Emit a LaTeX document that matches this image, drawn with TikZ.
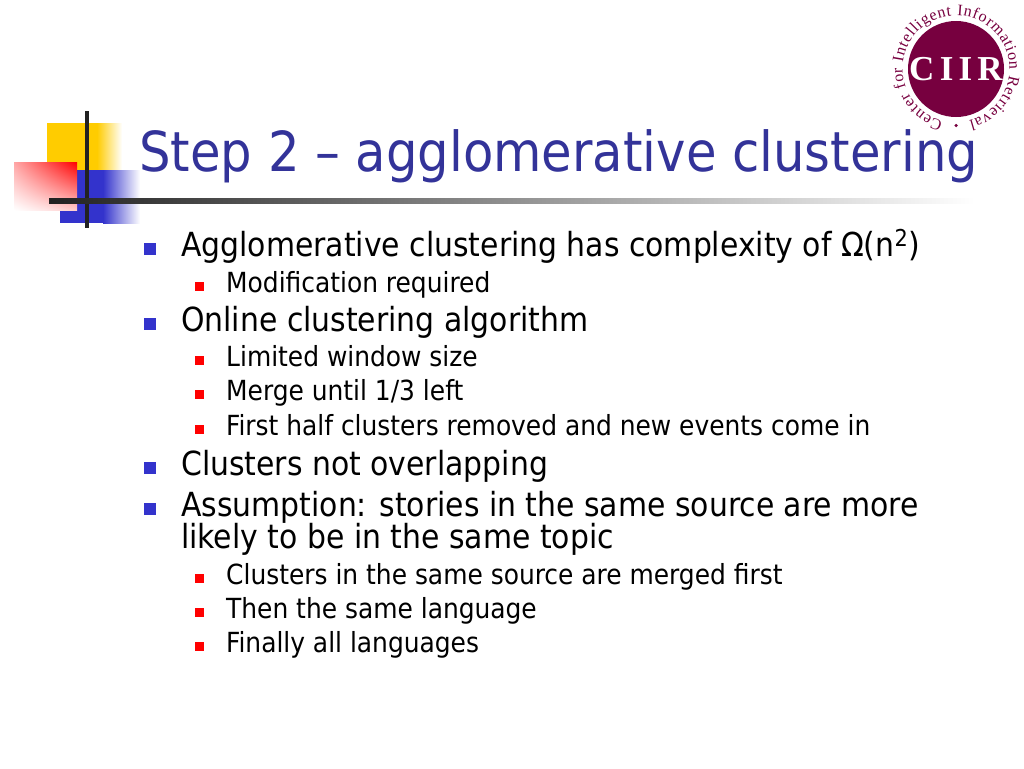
\documentclass[tikz,border=0pt]{standalone}
\usepackage{fontspec}
\setmainfont{DejaVu Sans Condensed}
\newfontfamily\logofont{Liberation Serif}
\usetikzlibrary{decorations.text,shadings}
\definecolor{titleblue}{HTML}{333399}
\definecolor{bulletblue}{HTML}{3333CC}
\definecolor{logored}{HTML}{77003F}
\definecolor{barblack}{HTML}{222222}
\definecolor{deckyellow}{HTML}{FFCC00}
\tikzset{
  title/.style={anchor=base west,inner sep=0pt,text=titleblue,font=\fontsize{55.2}{55.2}\selectfont},
  itemone/.style={anchor=base west,inner sep=0pt,font=\fontsize{33.2}{33.2}\selectfont},
  itemtwo/.style={anchor=base west,inner sep=0pt,font=\fontsize{27.7}{27.7}\selectfont},
  bulletone/.style={inner sep=0pt,minimum size=12pt,fill=bulletblue},
  bullettwo/.style={inner sep=0pt,minimum size=8.5pt,fill=red},
}
\begin{document}
\begin{tikzpicture}[x=1pt,y=-1pt]
\useasboundingbox (0,0) rectangle (1024,768);
\fill[deckyellow] (47,123) rectangle (97,170);
\shade[left color=deckyellow,right color=white] (97,123) rectangle (122,170);
\fill[bulletblue] (60,170) rectangle (103,223);
\shade[left color=bulletblue,right color=white] (103,170) rectangle (140,223);
\shade[shading=bilinear interpolation,upper right=red,lower left=white,upper left=red!35!white,lower right=red!20!white] (14,162) rectangle (77,210);
\fill[barblack] (85.2,111) rectangle (88.8,228);
\shade[left color=barblack,right color=white] (49,198.5) rectangle (975,203.5);
\node (heading) [title] at (139,171) {Step 2 – agglomerative clustering};
\foreach \name/\base/\txt in {
  complexity/256/{Agglomerative clustering has complexity of Ω(n\textsuperscript{2})},
  online/331/{Online clustering algorithm},
  overlap/475/{Clusters not overlapping},
  assume/516/{Assumption: stories in the same source are more}}
{
  \node (\name) [itemone] at (181,\base) {\txt};
  \node (\name bullet) [bulletone] at (150,\base-7) {};
}
\node (assumetwo) [itemone] at (181,548) {likely to be in the same topic};
\foreach \name/\base/\txt in {
  modify/292/{Modification required},
  window/366/{Limited window size},
  merge/400/{Merge until 1/3 left},
  half/435/{First half clusters removed and new events come in},
  source/584/{Clusters in the same source are merged first},
  language/618/{Then the same language},
  finally/652/{Finally all languages}}
{
  \node (\name) [itemtwo] at (226,\base) {\txt};
  \node (\name bullet) [bullettwo] at (199.5,\base-5.5) {};
}
\node (logo) [circle,fill=logored,minimum size=96pt,inner sep=0pt] at (956,69) {};
\node (logotext) [text=white,font=\logofont\bfseries\fontsize{35}{35}\selectfont\addfontfeature{LetterSpace=15}] at (logo) {CIIR};
\path[decorate,decoration={text along path,text color=logored,
  text={|\logofont\fontsize{16}{16}\selectfont|Center for Intelligent Information Retrieval},
  text align={fit to path}}]
  (logo) ++(104:53.5) arc[start angle=256,end angle=-76,x radius=53.5pt,y radius=53.5pt];
\node (logodot) [circle,fill=logored,minimum size=3.5pt,inner sep=0pt] at (956,125.5) {};
\end{tikzpicture}
\end{document}
